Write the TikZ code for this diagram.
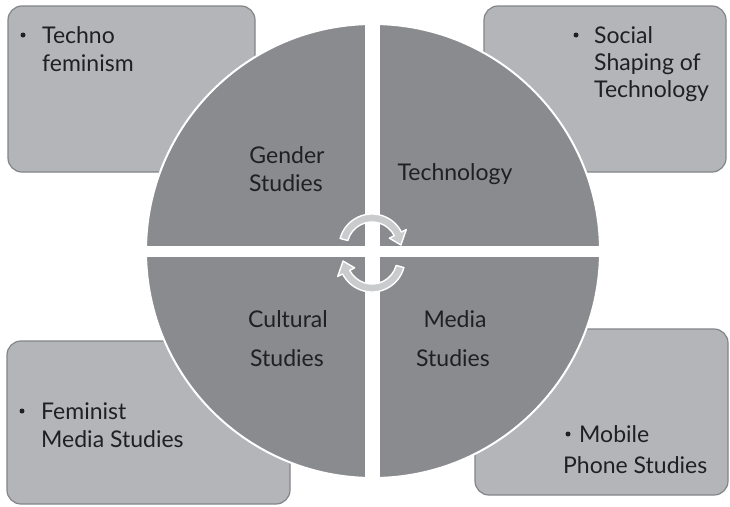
\documentclass[tikz,border=0pt]{standalone}
\usepackage{fontspec}
\setmainfont{Lato}
\definecolor{boxfill}{RGB}{180,181,184}
\definecolor{boxline}{RGB}{132,133,137}
\definecolor{pie}{RGB}{138,139,143}
\definecolor{ink}{RGB}{32,32,34}
\definecolor{cyc}{RGB}{202,203,205}
\begin{document}
\begin{tikzpicture}[x=1pt,y=-1pt,
  box/.style={draw=boxline, line width=1.2pt, fill=boxfill, rounded corners=14pt, inner sep=0pt},
  txt/.style={font=\fontsize{23}{27}\selectfont, text=ink, inner sep=0pt, anchor=base west},
  lbl/.style={font=\fontsize{23}{27}\selectfont, text=ink, inner sep=0pt, anchor=base},
  dot/.style={circle, fill=ink, inner sep=0pt, minimum size=5pt},
  cyclearrow/.style={fill=cyc, draw=white, line width=1.4pt, line join=round}]
\useasboundingbox (0,0) rectangle (730,506);
\fill[white] (0,0) rectangle (730,506);

% outer boxes
\node[box, minimum width=247pt, minimum height=166pt] (tlbox) at (131.5,89) {};
\node[box, minimum width=242pt, minimum height=166pt] (trbox) at (605,89) {};
\node[box, minimum width=283pt, minimum height=163pt] (blbox) at (148.5,422.5) {};
\node[box, minimum width=253pt, minimum height=166pt] (brbox) at (601.5,412) {};

% central disc split in four
\node[circle, fill=pie, draw=white, line width=2pt, minimum size=454pt, inner sep=0pt] (disc) at (373,251) {};
\begin{scope}
  \clip (disc.center) circle[radius=228];
  \fill[white] (365,0) rectangle (380,506);
  \fill[white] (0,246) rectangle (730,257);
\end{scope}

% cycle arrows
\coordinate (cu) at (372,247);
\coordinate (cl) at (372,259);
\draw[cyclearrow] ([shift={(cu)}]195:33) arc[start angle=195, end angle=333, radius=33]
  -- ([shift={(cu)}]333:38.5) -- ([shift={(cu)}]356:29) -- ([shift={(cu)}]333:19.5)
  -- ([shift={(cu)}]333:25) arc[start angle=333, end angle=195, radius=25] -- cycle;
\draw[cyclearrow] ([shift={(cl)}]15:33) arc[start angle=15, end angle=153, radius=33]
  -- ([shift={(cl)}]153:38.5) -- ([shift={(cl)}]176:29) -- ([shift={(cl)}]153:19.5)
  -- ([shift={(cl)}]153:25) arc[start angle=153, end angle=15, radius=25] -- cycle;

% quadrant labels
\node[lbl] (gender1) at (287,163) {Gender};
\node[lbl] (gender2) at (286,191) {Studies};
\node[lbl] (tech) at (455,180) {Technology};
\node[lbl] (cult1) at (288,327) {Cultural};
\node[lbl] (cult2) at (287,366) {Studies};
\node[lbl] (media1) at (455,327) {Media};
\node[lbl] (media2) at (453,366) {Studies};

% box texts
\node[dot] (tlb) at (23,35) {};
\node[txt] (tl1) at (42,43) {Techno};
\node[txt] (tl2) at (42,71) {feminism};

\node[dot] (trb) at (576,35) {};
\node[txt] (tr1) at (594,43) {Social};
\node[txt] (tr2) at (594,70) {Shaping of};
\node[txt] (tr3) at (594,97) {Technology};

\node[dot] (blb) at (22,411) {};
\node[txt] (bl1) at (41,419) {Feminist};
\node[txt] (bl2) at (41,447) {Media Studies};

\node[dot] (brb) at (568,434) {};
\node[txt] (br1) at (579,442) {Mobile};
\node[txt] (br2) at (563,473) {Phone Studies};
\end{tikzpicture}
\end{document}
